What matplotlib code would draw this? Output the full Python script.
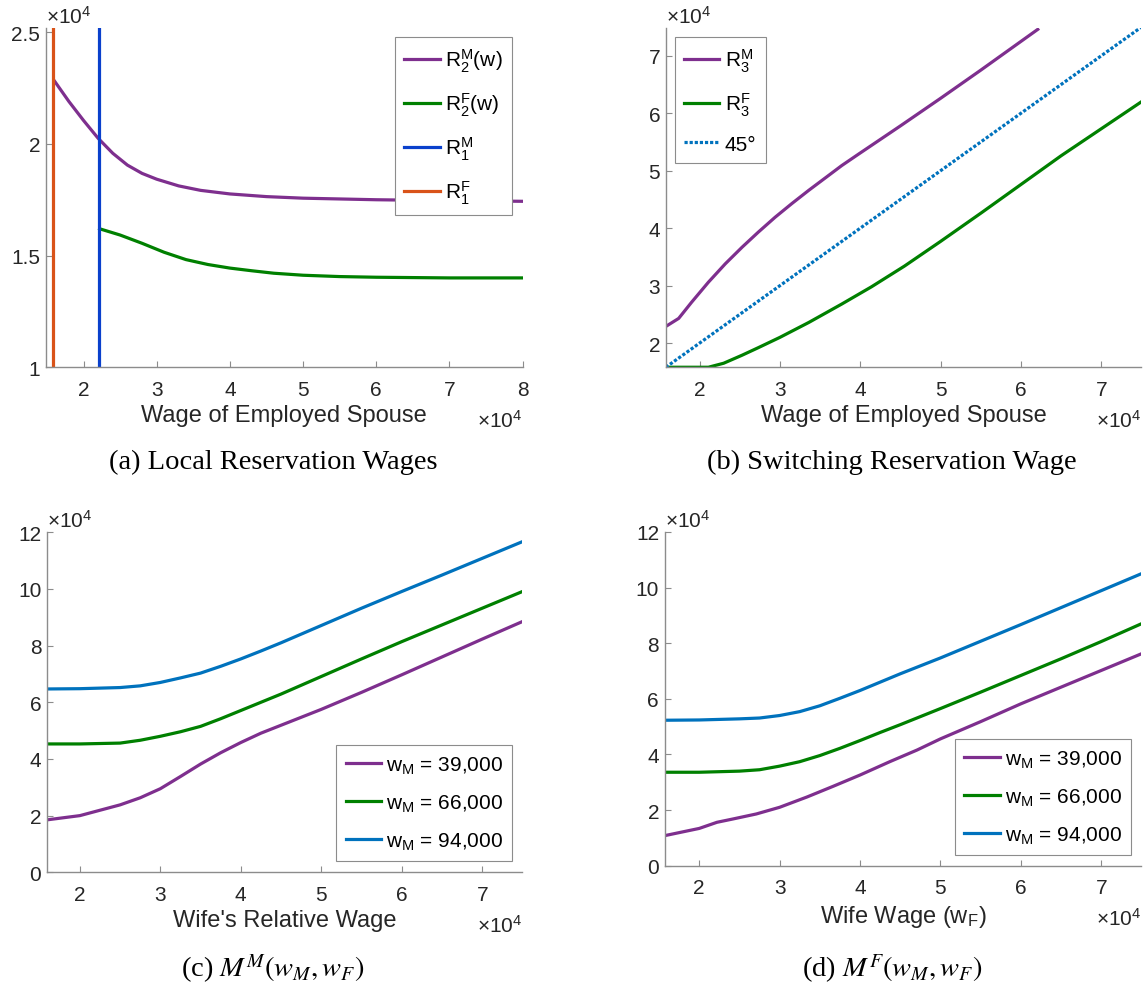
import matplotlib
matplotlib.use("Agg")
import numpy as np
import matplotlib.pyplot as plt
from matplotlib.ticker import FuncFormatter

plt.rcParams['font.family'] = ['Liberation Sans', 'DejaVu Sans']
plt.rcParams['mathtext.fontset'] = 'custom'
plt.rcParams['mathtext.rm'] = 'Liberation Sans'
plt.rcParams['mathtext.it'] = 'Liberation Sans'
plt.rcParams['mathtext.bf'] = 'Liberation Sans:bold'

PURPLE = '#7E2F8E'
GREEN = '#008000'
BLUE_A = '#0A40CC'
ORANGE = '#D95319'
BLUE = '#0072BD'
TXT = '#262626'

# ---- panel (a): local reservation wages
a_x_m = [16000, 18000, 20000, 22000, 24000, 26000, 28000, 30000, 33000, 36000, 40000,
         45000, 50000, 60000, 70000, 80000]
a_r2m = [22830, 21900, 21050, 20250, 19580, 19050, 18680, 18420, 18120, 17920, 17760,
         17640, 17570, 17500, 17460, 17430]
a_x_f = [22200, 25000, 28000, 31000, 34000, 37000, 40000, 43000, 46000, 50000, 55000,
         60000, 70000, 80000]
a_r2f = [16200, 15920, 15550, 15150, 14820, 14600, 14440, 14320, 14210, 14120, 14060,
         14030, 14000, 14000]
a_r1m = 22180
a_r1f = 15870

# ---- panel (b): switching reservation wage
b_x_m = [15800, 17400, 19000, 21100, 23200, 25300, 27300, 29400, 31500, 33600, 35700,
         37700, 39800, 45000, 50000, 55000, 60000, 62100]
b_r3m = [22900, 24300, 27100, 30600, 33800, 36700, 39300, 41900, 44300, 46600, 48800,
         50900, 52900, 57800, 62600, 67500, 72500, 74600]
b_x_f = [15800, 21100, 23000, 25300, 27300, 30000, 33600, 37700, 41400, 45500, 50000,
         55100, 60000, 65000, 70000, 75000]
b_r3f = [15800, 15800, 16500, 17900, 19200, 21000, 23600, 26800, 29800, 33400, 37700,
         42700, 47600, 52600, 57300, 62000]
b_45 = [15800, 75000]

# ---- panels (c) and (d)
c_wf = [15900, 20000, 25000, 27500, 30000, 32500, 35000, 37500, 40000, 42500, 45000,
        50000, 55000, 60000, 65000, 70000, 75000]
c_94 = [64700, 64800, 65200, 65800, 67000, 68600, 70300, 72700, 75300, 78100, 81000,
        87100, 93200, 99100, 104900, 110800, 116700]
c_66 = [45300, 45300, 45600, 46600, 48000, 49600, 51500, 54200, 57100, 60000, 62900,
        69100, 75300, 81400, 87300, 93200, 99100]
c_39 = [18500, 20000, 23800, 26300, 29500, 33800, 38200, 42200, 45800, 49100, 51900,
        57500, 63500, 69700, 76000, 82300, 88500]
d_wf = [15700, 20000, 25000, 27500, 30000, 32500, 35000, 37500, 40000, 42500, 45000,
        50000, 55000, 60000, 65000, 70000, 75000]
d_94 = [52300, 52400, 52800, 53100, 54000, 55400, 57500, 60200, 63000, 66000, 69000,
        74700, 80700, 86700, 92800, 98900, 105000]
d_66 = [33600, 33600, 34000, 34500, 35800, 37400, 39600, 42200, 45000, 47900, 50700,
        56500, 62400, 68400, 74400, 80600, 87000]
d_x39 = [15700, 20000, 22200, 24200, 27100, 30000, 33400, 36700, 40000, 43700, 47100,
         50000, 55000, 60000, 65000, 70000, 75000]
d_39 = [10800, 13400, 15600, 16800, 18600, 21000, 24700, 28600, 32600, 37400, 41600,
        45600, 51800, 58200, 64200, 70200, 76200]
wm_labels = ['39,000', '66,000', '94,000']


def fmt(v, pos):
    return '%g' % (v / 1e4)


def style(ax):
    for side in ['top', 'right']:
        ax.spines[side].set_visible(False)
    for side in ['left', 'bottom']:
        ax.spines[side].set_color('#8c8c8c')
        ax.spines[side].set_linewidth(1.0)
    ax.tick_params(direction='in', length=4, width=0.8, color='#8c8c8c',
                   labelsize=15, labelcolor=TXT)
    ax.tick_params(axis='x', pad=9)
    ax.tick_params(axis='y', pad=4)
    ax.xaxis.set_major_formatter(FuncFormatter(fmt))
    ax.yaxis.set_major_formatter(FuncFormatter(fmt))
    ax.text(0.0, 1.005, r'$\times10^4$', transform=ax.transAxes, ha='left', va='bottom',
            fontsize=15, color=TXT)
    ax.text(1.0, -0.123, r'$\times10^4$', transform=ax.transAxes, ha='right', va='top',
            fontsize=15, color=TXT)


def legend(ax, loc, anchor):
    leg = ax.legend(loc=loc, bbox_to_anchor=anchor, borderaxespad=0, fontsize=15,
                    handlelength=1.7, frameon=True, fancybox=False, edgecolor='#8c8c8c',
                    framealpha=1, borderpad=0.45, labelspacing=0.8, handletextpad=0.25)
    leg.get_frame().set_linewidth(0.8)
    return leg


def main():
    fig = plt.figure(figsize=(11.46, 9.87), dpi=100)
    lw = 2.3

    # (a)
    ax1 = fig.add_axes([0.0400, 0.6269, 0.4160, 0.3435])
    ax1.plot(a_x_m, a_r2m, color=PURPLE, lw=lw, label=r'R$_2^\mathrm{M}$(w)')
    ax1.plot(a_x_f, a_r2f, color=GREEN, lw=lw, label=r'R$_2^\mathrm{F}$(w)')
    ax1.axvline(a_r1m, color=BLUE_A, lw=lw, label=r'R$_1^\mathrm{M}$')
    ax1.axvline(a_r1f, color=ORANGE, lw=lw, label=r'R$_1^\mathrm{F}$')
    ax1.set_xlim(14850, 80000)
    ax1.set_ylim(10000, 25180)
    ax1.set_xticks([20000, 30000, 40000, 50000, 60000, 70000, 80000])
    ax1.set_yticks([10000, 15000, 20000, 25000])
    ax1.set_xlabel('Wage of Employed Spouse', fontsize=17, color=TXT, labelpad=4)
    style(ax1)
    legend(ax1, 'upper right', (0.978, 0.974))

    # (b)
    ax2 = fig.add_axes([0.5810, 0.6269, 0.4150, 0.3435])
    ax2.plot(b_x_m, b_r3m, color=PURPLE, lw=lw, label=r'R$_3^\mathrm{M}$')
    ax2.plot(b_x_f, b_r3f, color=GREEN, lw=lw, label=r'R$_3^\mathrm{F}$')
    ax2.plot(b_45, b_45, color=BLUE, lw=lw, ls=(0, (1, 0.6)), label='45°')
    ax2.set_xlim(15800, 75000)
    ax2.set_ylim(15800, 74800)
    ax2.set_xticks([20000, 30000, 40000, 50000, 60000, 70000])
    ax2.set_yticks([20000, 30000, 40000, 50000, 60000, 70000])
    ax2.set_xlabel('Wage of Employed Spouse', fontsize=17, color=TXT, labelpad=4)
    style(ax2)
    legend(ax2, 'upper left', (0.0185, 0.974))

    # (c)
    ax3 = fig.add_axes([0.0409, 0.1152, 0.4150, 0.3445])
    ax3.plot(c_wf, c_39, color=PURPLE, lw=lw, label=r'w$_\mathrm{M}$ = ' + wm_labels[0])
    ax3.plot(c_wf, c_66, color=GREEN, lw=lw, label=r'w$_\mathrm{M}$ = ' + wm_labels[1])
    ax3.plot(c_wf, c_94, color=BLUE, lw=lw, label=r'w$_\mathrm{M}$ = ' + wm_labels[2])
    ax3.set_xlim(15900, 75000)
    ax3.set_ylim(0, 120000)
    ax3.set_xticks([20000, 30000, 40000, 50000, 60000, 70000])
    ax3.set_yticks(np.arange(0, 120001, 20000))
    ax3.set_xlabel("Wife's Relative Wage", fontsize=17, color=TXT, labelpad=4)
    style(ax3)
    legend(ax3, 'lower right', (0.979, 0.033))

    # (d)
    ax4 = fig.add_axes([0.5800, 0.1219, 0.4160, 0.3381])
    ax4.plot(d_x39, d_39, color=PURPLE, lw=lw, label=r'w$_\mathrm{M}$ = ' + wm_labels[0])
    ax4.plot(d_wf, d_66, color=GREEN, lw=lw, label=r'w$_\mathrm{M}$ = ' + wm_labels[1])
    ax4.plot(d_wf, d_94, color=BLUE, lw=lw, label=r'w$_\mathrm{M}$ = ' + wm_labels[2])
    ax4.set_xlim(15700, 75000)
    ax4.set_ylim(0, 120000)
    ax4.set_xticks([20000, 30000, 40000, 50000, 60000, 70000])
    ax4.set_yticks(np.arange(0, 120001, 20000))
    ax4.set_xlabel(r'Wife Wage (w$_\mathrm{F}$)', fontsize=17, color=TXT, labelpad=4)
    style(ax4)
    legend(ax4, 'lower right', (0.979, 0.032))

    cap = dict(fontsize=20.5, family='Liberation Serif', ha='center', va='center',
               math_fontfamily='stix')
    fig.text(273 / 1146, 1 - 462 / 987, '(a) Local Reservation Wages', **cap)
    fig.text(892 / 1146, 1 - 462 / 987, '(b) Switching Reservation Wage', **cap)
    fig.text(273 / 1146, 1 - 969 / 987, r'(c) $M^M(w_M, w_F)$', **cap)
    fig.text(892 / 1146, 1 - 969 / 987, r'(d) $M^F(w_M, w_F)$', **cap)

    fig.savefig('out.png', dpi=100)


if __name__ == "__main__":
    main()
